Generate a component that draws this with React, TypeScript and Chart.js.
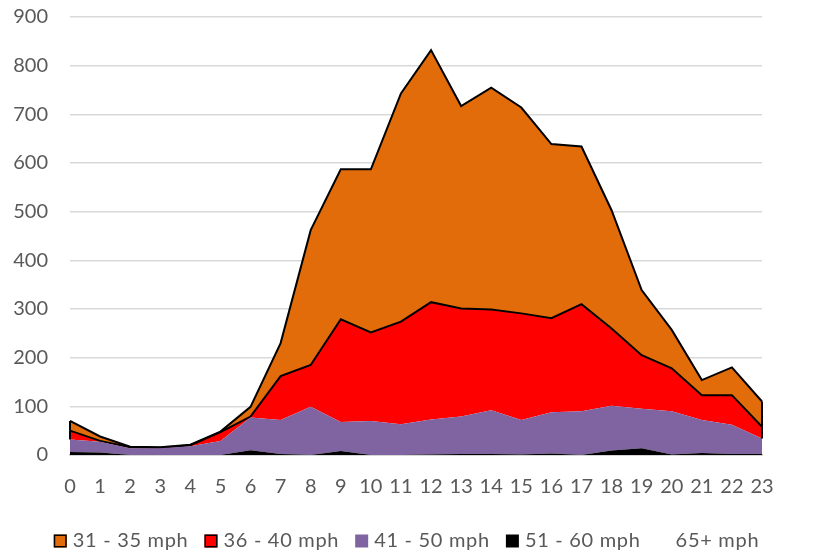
import React, { useEffect, useRef } from "react";
import { Chart, registerables } from "chart.js";

Chart.register(...registerables);

const hours = ["0","1","2","3","4","5","6","7","8","9","10","11","12","13","14","15","16","17","18","19","20","21","22","23"];

const mph65plus = [0,0,0,0,0,0,0,0,0,0,0,0,0,0,0,0,0,0,0,0,0,0,0,0];
const mph51to60 = [6,5,0,0,0,0,10,2,0,8,0,0,1,2,2,1,3,0,9,14,1,4,2,2];
const mph41to50 = [26,22,14,14,18,29,67,70,99,60,70,63,72,77,90,71,85,90,92,81,89,68,60,32];
const mph36to40 = [18,2,2,1,2,18,2,90,86,211,182,211,241,222,207,219,193,220,159,110,88,51,61,24];
const mph31to35 = [20,9,1,1,1,1,20,68,277,308,335,469,518,416,456,423,358,324,243,134,79,31,57,52];

const yTicks = [0, 100, 200, 300, 400, 500, 600, 700, 800, 900];

const FONT = "Lato, 'Open Sans', sans-serif";
const TEXT = "#595959";

export default function App() {
  const ref = useRef<HTMLCanvasElement | null>(null);

  useEffect(() => {
    document.body.style.margin = "0";
    const canvas = ref.current;
    if (!canvas) return;

    // vertical edge outlines of the bordered areas (Excel draws the full outline)
    const edgeLines = {
      id: "edgeLines",
      afterDatasetsDraw(chart: any) {
        const ctx = chart.ctx;
        const ds = chart.data.datasets;
        ctx.save();
        ctx.strokeStyle = "#000";
        ctx.lineWidth = 2;
        ds.forEach((d: any, i: number) => {
          if (!d.borderWidth || i === 0) return;
          const meta = chart.getDatasetMeta(i);
          const below = chart.getDatasetMeta(i - 1);
          [0, meta.data.length - 1].forEach((k) => {
            const p = meta.data[k];
            const q = below.data[k];
            ctx.beginPath();
            ctx.moveTo(p.x, p.y);
            ctx.lineTo(p.x, q.y);
            ctx.stroke();
          });
        });
        ctx.restore();
      },
    };

    // legend drawn below the axis, in the reference's style
    const customLegend = {
      id: "customLegend",
      afterDraw(chart: any) {
        const ctx = chart.ctx;
        const items = chart.data.datasets.map((d: any) => d).reverse();
        const box = 13;
        const textGap = 6;
        const itemGap = 16;
        ctx.save();
        ctx.font = `20px ${FONT}`;
        try {
          (ctx as any).letterSpacing = "0.7px";
        } catch (e) {}
        const widths = items.map((d: any) => ctx.measureText(d.label).width);
        const total =
          widths.reduce((a: number, b: number) => a + b, 0) +
          items.length * (box + textGap) +
          (items.length - 1) * itemGap;
        let x = (chart.width - total) / 2;
        const cy = 541;
        items.forEach((d: any, i: number) => {
          ctx.fillStyle = d.backgroundColor;
          ctx.fillRect(x, cy - box / 2, box, box);
          if (d.borderWidth) {
            ctx.strokeStyle = d.borderColor;
            ctx.lineWidth = 1.5;
            ctx.strokeRect(x + 0.75, cy - box / 2 + 0.75, box - 1.5, box - 1.5);
          }
          ctx.fillStyle = TEXT;
          ctx.textBaseline = "middle";
          ctx.textAlign = "left";
          ctx.fillText(d.label, x + box + textGap, cy);
          x += box + textGap + widths[i] + itemGap;
        });
        ctx.restore();
      },
    };

    const chart = new Chart(canvas, {
      type: "line",
      data: {
        labels: hours,
        datasets: [
          {
            label: "65+ mph",
            data: mph65plus,
            backgroundColor: "#ffffff",
            borderColor: "#ffffff",
            borderWidth: 0,
            fill: "origin",
            pointRadius: 0,
            tension: 0,
          },
          {
            label: "51 - 60 mph",
            data: mph51to60,
            backgroundColor: "#000000",
            borderColor: "#000000",
            borderWidth: 0,
            fill: "-1",
            pointRadius: 0,
            tension: 0,
          },
          {
            label: "41 - 50 mph",
            data: mph41to50,
            backgroundColor: "#8064A2",
            borderColor: "#8064A2",
            borderWidth: 0,
            fill: "-1",
            pointRadius: 0,
            tension: 0,
          },
          {
            label: "36 - 40 mph",
            data: mph36to40,
            backgroundColor: "#FF0000",
            borderColor: "#000000",
            borderWidth: 2,
            fill: "-1",
            pointRadius: 0,
            tension: 0,
          },
          {
            label: "31 - 35 mph",
            data: mph31to35,
            backgroundColor: "#E36C0A",
            borderColor: "#000000",
            borderWidth: 2,
            fill: "-1",
            pointRadius: 0,
            tension: 0,
          },
        ] as any,
      },
      options: {
        responsive: false,
        animation: false,
        devicePixelRatio: 1,
        layout: { padding: { left: 0, right: 51, top: 17, bottom: 53 } },
        elements: { line: { borderJoinStyle: "miter" } },
        scales: {
          x: {
            type: "category",
            offset: false,
            afterFit: (s: any) => {
              s.height = 44;
              s.paddingLeft = 0;
              s.paddingRight = 0;
              s.paddingTop = 0;
              s.paddingBottom = 0;
            },
            grid: { display: false, drawTicks: false },
            border: { display: true, color: "#BFBFBF", width: 1.5 },
            ticks: {
              color: TEXT,
              font: { family: FONT, size: 20 },
              padding: 20,
              maxRotation: 0,
              autoSkip: false,
            },
          },
          y: {
            stacked: true,
            min: 0,
            max: 900,
            afterFit: (s: any) => {
              s.width = 70;
              s.paddingTop = 0;
              s.paddingBottom = 0;
              s.paddingLeft = 0;
              s.paddingRight = 0;
            },
            afterBuildTicks: (s: any) => {
              s.ticks = yTicks.map((v) => ({ value: v }));
            },
            grid: { color: "#D9D9D9", lineWidth: 1.5, drawTicks: false },
            border: { display: false },
            ticks: {
              color: TEXT,
              font: { family: FONT, size: 20 },
              padding: 22,
            },
          },
        },
        plugins: {
          tooltip: { enabled: false },
          legend: { display: false },
        },
      } as any,
      plugins: [edgeLines, customLegend],
    });

    return () => chart.destroy();
  }, []);

  return (
    <div style={{ width: 813, height: 552 }}>
      <canvas ref={ref} width={813} height={552} style={{ display: "block" }} />
    </div>
  );
}
